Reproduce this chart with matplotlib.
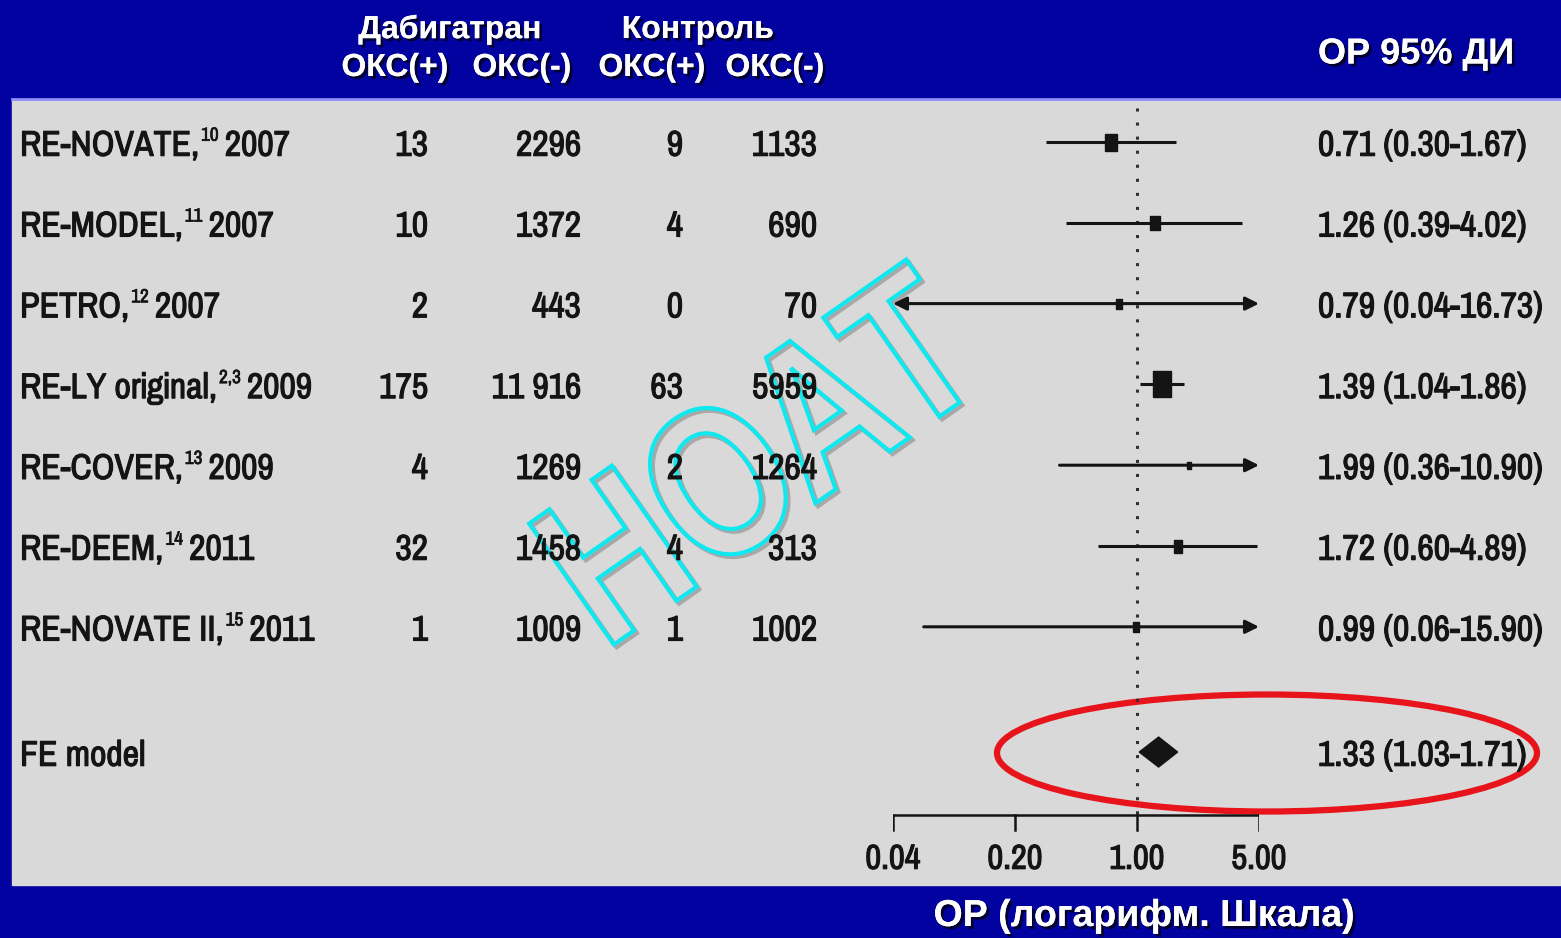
"""Forest plot: dabigatran vs control, ACS events (OR, log scale)."""
import numpy as np
import matplotlib
matplotlib.use("Agg")
import matplotlib.pyplot as plt
import matplotlib.patheffects as pe
from matplotlib import font_manager
from matplotlib.patches import Rectangle, Ellipse, PathPatch
from matplotlib.textpath import TextPath
from matplotlib.font_manager import FontProperties
from matplotlib.transforms import Affine2D, blended_transform_factory


STUDY_NAMES = ["RE-NOVATE,", "RE-MODEL,", "PETRO,", "RE-LY original,",
               "RE-COVER,", "RE-DEEM,", "RE-NOVATE II,"]
STUDY_REFS = ["10", "11", "12", "2,3", "13", "14", "15"]
STUDY_YEARS = ["2007", "2007", "2007", "2009", "2009", "2011", "2011"]
DABI_POS = [13, 10, 2, 175, 4, 32, 1]
DABI_NEG = ["2296", "1372", "443", "11 916", "1269", "1458", "1009"]
CTRL_POS = [9, 4, 0, 63, 2, 4, 1]
CTRL_NEG = [1133, 690, 70, 5959, 1264, 313, 1002]
OR = [0.71, 1.26, 0.79, 1.39, 1.99, 1.72, 0.99]
CI_LO = [0.30, 0.39, 0.04, 1.04, 0.36, 0.60, 0.06]
CI_HI = [1.67, 4.02, 16.73, 1.86, 10.90, 4.89, 15.90]
FE_OR, FE_LO, FE_HI = 1.33, 1.03, 1.71
TICKS = [0.04, 0.20, 1.00, 5.00]

# Box heights in pixels (weight of each study)
BOX_PX = [17, 14, 10, 26, 7, 13, 10]

W, H = 1561, 938
BLUE = "#0202A0"
GRAY = "#D9D9D9"
ROW0, STEP = 142, 80.8      # pixel y of first row, row spacing
FE_ROW = 7.55
AXIS_ROW = 8.33

names = {f.name for f in font_manager.fontManager.ttflist}
NARROW = "Liberation Sans"
for cand in ["Arial Narrow", "Liberation Sans Narrow", "Pragati Narrow",
             "Roboto Condensed", "PT Sans Narrow", "Archivo Narrow",
             "IBM Plex Sans Condensed", "Open Sans Condensed"]:
    if cand in names:
        NARROW = cand
        break
plt.rcParams["font.family"] = [NARROW, "DejaVu Sans"]

fig = plt.figure(figsize=(W / 100, H / 100), dpi=100)
renderer = fig.canvas.get_renderer()
bg = fig.add_axes([0, 0, 1, 1])
bg.set_xlim(0, W)
bg.set_ylim(H, 0)
bg.axis("off")
bg.add_patch(Rectangle((0, 0), W, H, color=BLUE, zorder=0))
bg.add_patch(Rectangle((12, 100), W - 12, 785, color=GRAY, zorder=1))
bg.plot([12, W], [99.5, 99.5], color="#8C8CFF", lw=2, zorder=2)

fa = fig.add_axes([893 / W, 0, 366 / W, 1])
fa.set_xscale("log")
fa.set_xlim(TICKS[0], TICKS[-1])
fa.set_ylim((H - ROW0) / STEP, -ROW0 / STEP)
fa.axis("off")
fa.patch.set_alpha(0)

trans = blended_transform_factory(bg.transData, fa.transData)
ink = "#141414"
heavy = [pe.withStroke(linewidth=0.8, foreground=ink)]
txt = dict(fontsize=28, color=ink, family=[NARROW, "DejaVu Sans"],
           transform=trans, va="baseline", path_effects=heavy)
off = 0.17

rows = np.arange(len(STUDY_NAMES))
for i in rows:
    y = i + off
    # label with superscript reference
    t = fa.text(20, y, STUDY_NAMES[i], ha="left", **txt)
    x = 20 + t.get_window_extent(renderer).width + 2
    s = fa.text(x, y - 15 / STEP, STUDY_REFS[i], ha="left",
                **{**txt, "fontsize": 15,
                   "path_effects": [pe.withStroke(linewidth=0.5,
                                                  foreground=ink)]})
    x += s.get_window_extent(renderer).width + 6
    fa.text(x, y, STUDY_YEARS[i], ha="left", **txt)

    fa.text(428, y, str(DABI_POS[i]), ha="right", **txt)
    fa.text(581, y, DABI_NEG[i], ha="right", **txt)
    fa.text(683, y, str(CTRL_POS[i]), ha="right", **txt)
    fa.text(817, y, str(CTRL_NEG[i]), ha="right", **txt)
    fa.text(1318, y, "%.2f (%.2f-%.2f)" % (OR[i], CI_LO[i], CI_HI[i]),
            ha="left", **txt)

    lo_arrow = CI_LO[i] <= TICKS[0]
    hi_arrow = CI_HI[i] > TICKS[-1]
    lo = max(CI_LO[i], TICKS[0])
    hi = min(CI_HI[i], TICKS[-1])
    if lo_arrow or hi_arrow:
        style = {(True, True): "<|-|>", (True, False): "<|-",
                 (False, True): "-|>"}[(lo_arrow, hi_arrow)]
        fa.annotate("", xy=(hi, i), xytext=(lo, i),
                    arrowprops=dict(arrowstyle=style, color=ink, lw=2.2,
                                    mutation_scale=20, shrinkA=0, shrinkB=0),
                    zorder=4)
    else:
        fa.plot([lo, hi], [i, i], color=ink, lw=2.2, zorder=4,
                solid_capstyle="butt")
    box = [(-0.33, -0.5), (0.33, -0.5), (0.33, 0.5), (-0.33, 0.5),
           (-0.33, -0.5)]
    fa.plot([OR[i]], [i], marker=box, ms=BOX_PX[i] * 0.72, color=ink,
            mec=ink, ls="none", zorder=5)

# Fixed-effect summary
fa.text(20, FE_ROW + off, "FE model", ha="left", **txt)
fa.text(1318, FE_ROW + off, "%.2f (%.2f-%.2f)" % (FE_OR, FE_LO, FE_HI),
        ha="left", **txt)
hh = 15 / STEP
fa.fill([FE_LO, FE_OR, FE_HI, FE_OR],
        [FE_ROW, FE_ROW - hh, FE_ROW, FE_ROW + hh], color=ink, zorder=5)

# Reference line at 1
fa.plot([1, 1], [-0.42, AXIS_ROW], color="#303030", lw=2.2,
        ls=(0, (1, 3.6)), zorder=3)

# Bottom axis
fa.plot([TICKS[0], TICKS[-1]], [AXIS_ROW, AXIS_ROW], color=ink, lw=1.8,
        zorder=4, solid_capstyle="butt")
for t in TICKS:
    fa.plot([t, t], [AXIS_ROW, AXIS_ROW + 15 / STEP], color=ink, lw=1.8,
            zorder=4)
    fa.text(t, AXIS_ROW + 40 / STEP + off, "%.2f" % t, ha="center",
            fontsize=27, color=ink, family=[NARROW, "DejaVu Sans"],
            va="baseline", path_effects=heavy)

# Header
shadow = [pe.withSimplePatchShadow(offset=(2, -2), shadow_rgbFace="black",
                                   alpha=0.7), pe.Normal()]
hdr = dict(color="white", fontweight="bold", family="Liberation Sans",
           ha="center", va="center", path_effects=shadow)
bg.text(450, 30, "Дабигатран", fontsize=23, **hdr)
bg.text(698, 30, "Контроль", fontsize=23, **hdr)
for x, s in zip([395, 522, 652, 775],
                ["ОКС(+)", "ОКС(-)", "ОКС(+)", "ОКС(-)"]):
    bg.text(x, 68, s, fontsize=23, **hdr)
bg.text(1416, 54, "ОР 95% ДИ", fontsize=26, **hdr)
bg.text(1144, 916, "ОР (логарифм. Шкала)", fontsize=27, **hdr)

# Watermark
tp = TextPath((0, 0), "НОАТ", size=100,
              prop=FontProperties(family="Liberation Sans", weight="bold"))
ext = tp.get_extents()
k = 152 / ext.height
wm = Affine2D().translate(-(ext.x0 + ext.x1) / 2, -(ext.y0 + ext.y1) / 2) \
    .scale(k * 0.8, k).rotate_deg(35).scale(1, -1).translate(760, 452)
bg.add_patch(PathPatch(wm.transform_path(tp), fc="none", ec="#10E8F0",
                       lw=3, zorder=8,
                       path_effects=[pe.Stroke(offset=(2, -2), linewidth=3,
                                               foreground="#606060",
                                               alpha=0.4),
                                     pe.Normal()]))

# Red ellipse round the summary
bg.add_patch(Ellipse((1267, 753), 540, 117, fill=False, ec="#E8141B",
                     lw=4.5, zorder=9))

fig.savefig("out.png", dpi=100)
